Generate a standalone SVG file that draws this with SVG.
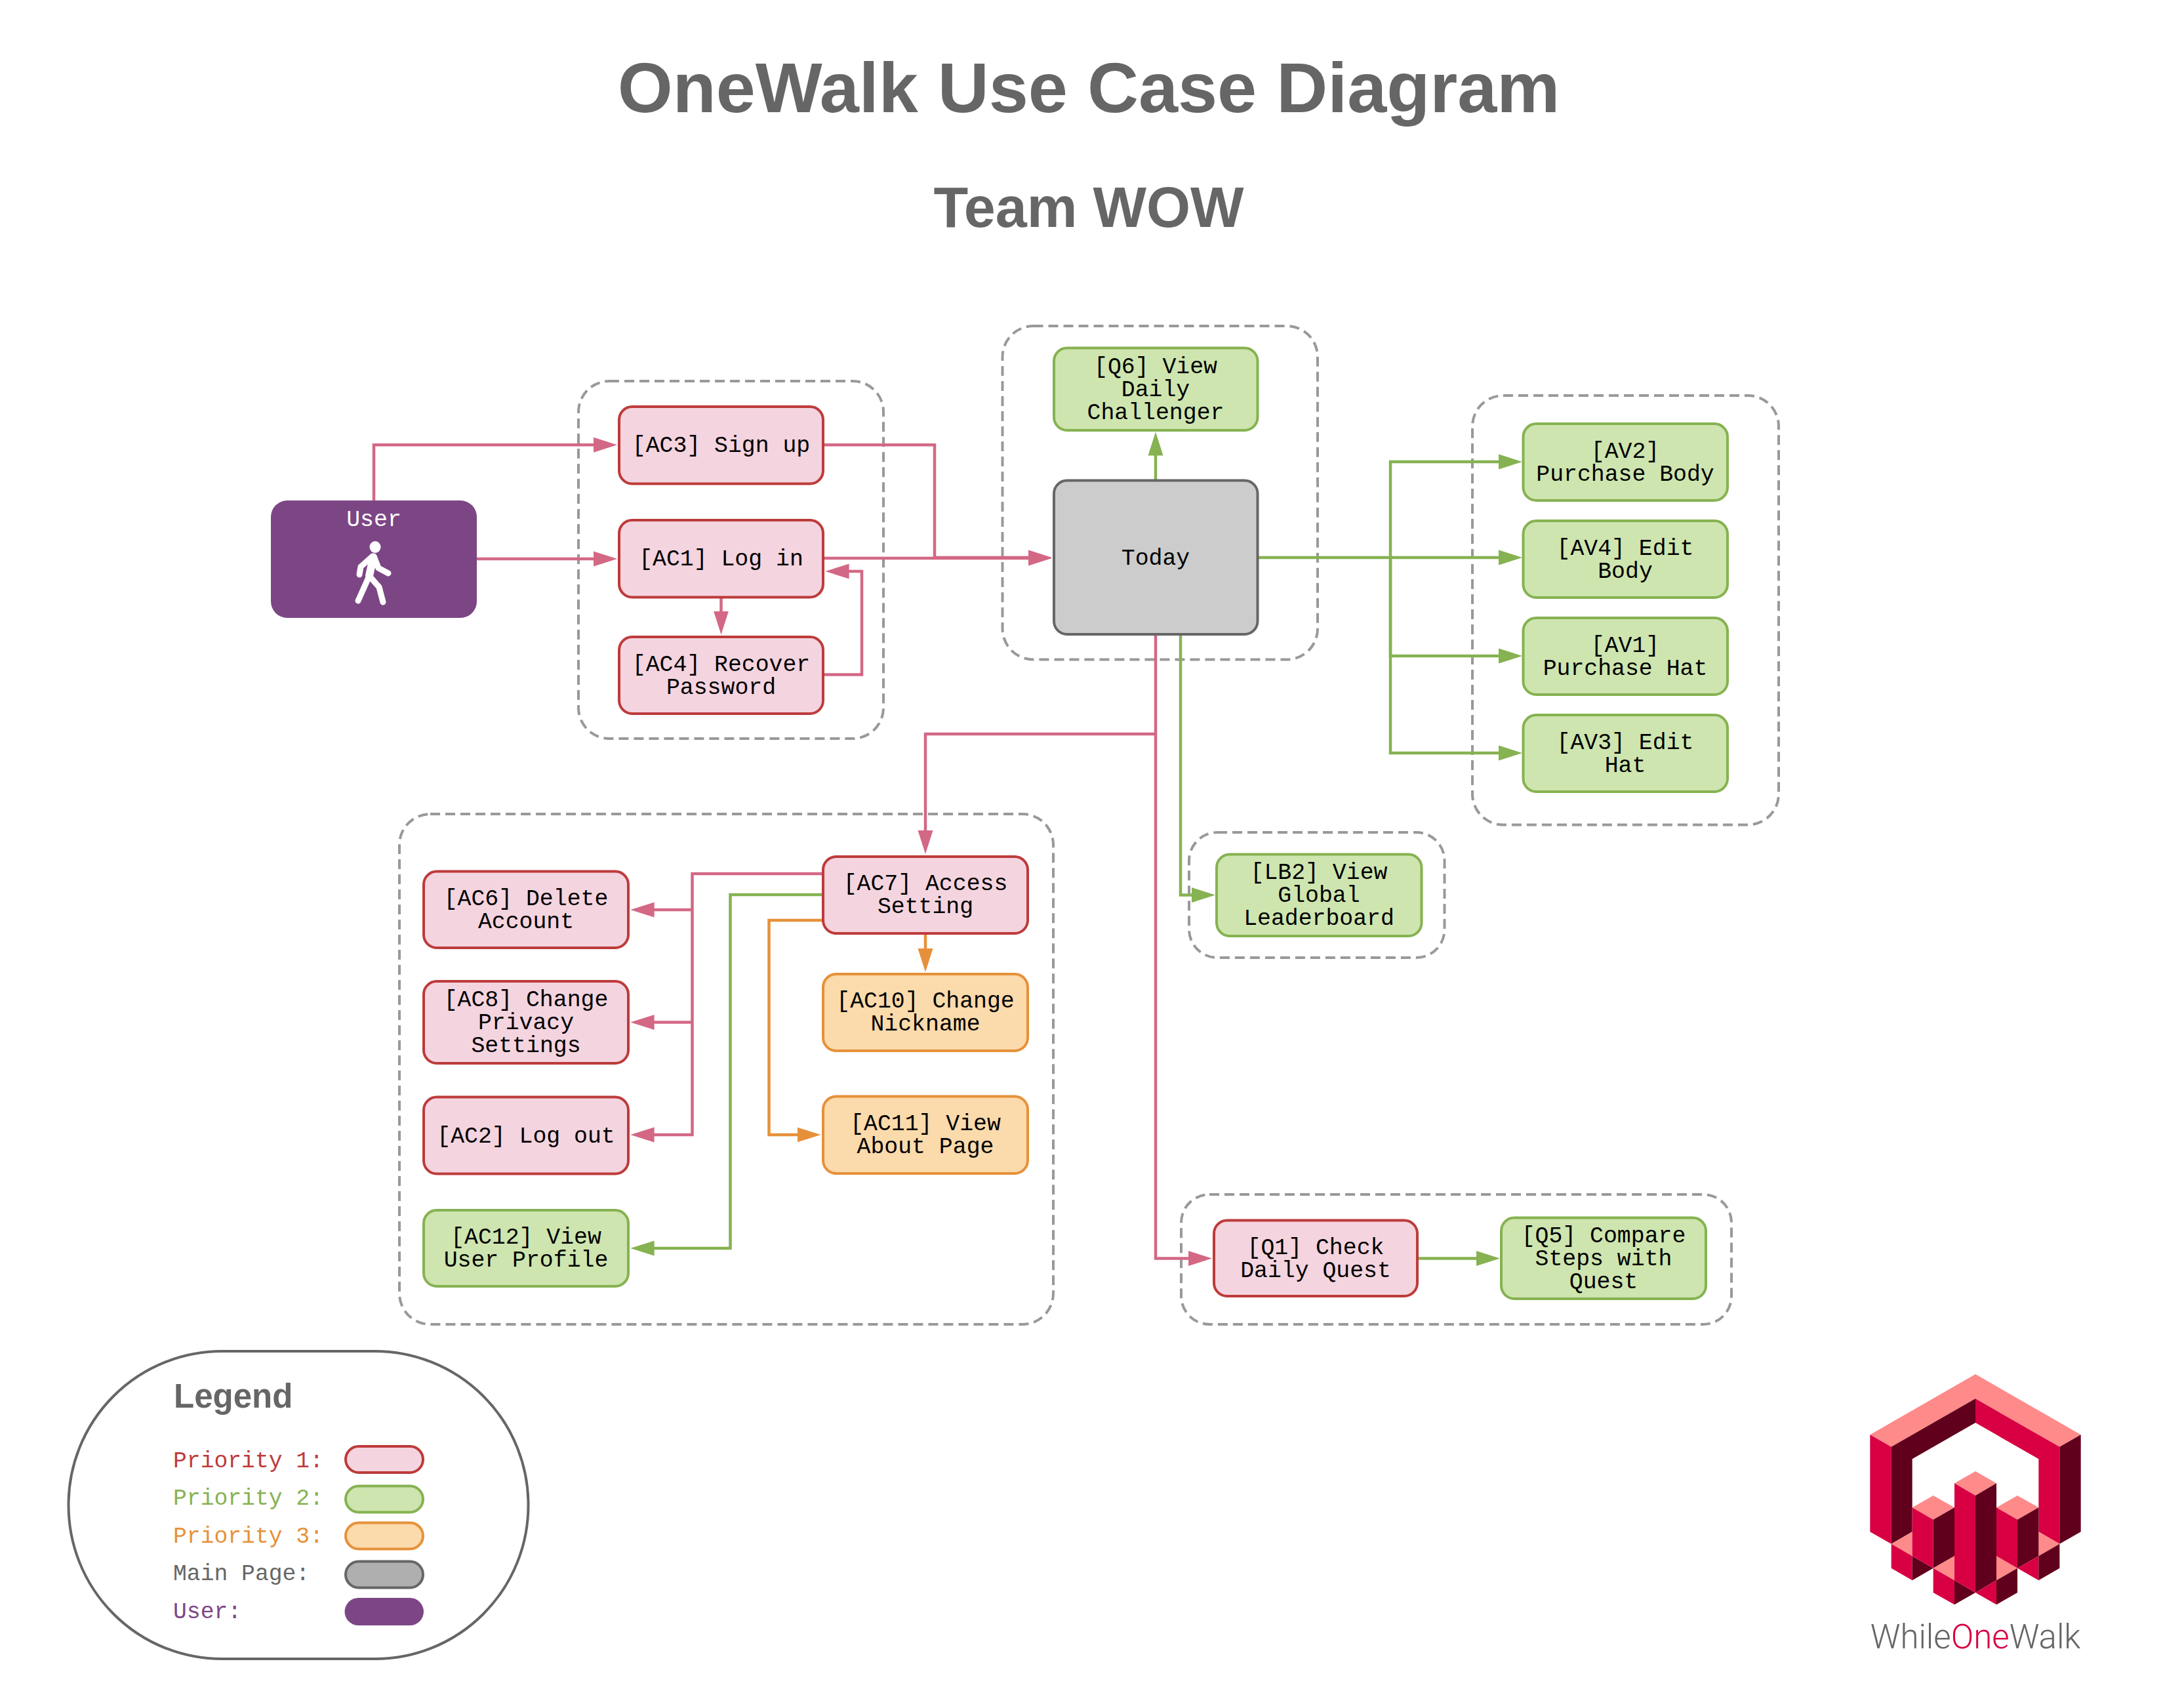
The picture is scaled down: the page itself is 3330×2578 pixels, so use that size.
<svg xmlns="http://www.w3.org/2000/svg" width="3330" height="2578" viewBox="0 0 3330 2578">
  <style>
    text { font-family: "Liberation Mono", monospace; font-size: 34.8px; text-anchor: middle; fill: #000; }
    .title { font-family: "Liberation Sans", Arial, sans-serif; font-weight: 700; fill: #666; }
    .frame { fill: none; stroke: #999; stroke-width: 4; stroke-dasharray: 15 8; }
    .p1 { fill: #f4d4df; stroke: #bd3b3b; stroke-width: 4; }
    .p2 { fill: #cee5af; stroke: #86b251; stroke-width: 4; }
    .p3 { fill: #fbdaab; stroke: #e6913a; stroke-width: 4; }
    .main { fill: #ccc; stroke: #666; stroke-width: 4; }
    .user { fill: #7c4685; }
    .lnk { fill: none; stroke-width: 4.5; }
    .lp { stroke: #d36885; marker-end: url(#ap); }
    .lg { stroke: #86b251; marker-end: url(#ag); }
    .lo { stroke: #e6913a; marker-end: url(#ao); }
    .lbl { text-anchor: start; font-size: 34.7px; }
    .c1 { fill: #d80042; } .c2 { fill: #60001c; } .c3 { fill: #ff8a8a; }
    .walker { fill: none; stroke: #fff; stroke-width: 9; stroke-linecap: round; stroke-linejoin: round; }
  </style>
  <defs>
    <marker id="ap" markerUnits="userSpaceOnUse" markerWidth="36" markerHeight="24" refX="16" refY="12" orient="auto"><path d="M0 0.500L36 12L0 23.500z" fill="#d36885"/></marker>
    <marker id="ag" markerUnits="userSpaceOnUse" markerWidth="36" markerHeight="24" refX="16" refY="12" orient="auto"><path d="M0 0.500L36 12L0 23.500z" fill="#86b251"/></marker>
    <marker id="ao" markerUnits="userSpaceOnUse" markerWidth="36" markerHeight="24" refX="16" refY="12" orient="auto"><path d="M0 0.500L36 12L0 23.500z" fill="#e6913a"/></marker>
  </defs>
  <rect width="3330" height="2578" fill="#fff"/>

  <text class="title" x="1660" y="171" style="font-size:108px">OneWalk Use Case Diagram</text>
  <text class="title" x="1660" y="346" style="font-size:86.300px">Team WOW</text>

  <!-- dashed module frames -->
  <g id="frames">
    <rect class="frame" x="882" y="581" width="465" height="545" rx="47"/>
    <rect class="frame" x="1528.500" y="497" width="480.500" height="508.500" rx="47"/>
    <rect class="frame" x="2245" y="603" width="467" height="654.500" rx="47"/>
    <rect class="frame" x="609" y="1241" width="997" height="778" rx="47"/>
    <rect class="frame" x="1813" y="1269" width="389.500" height="191" rx="43"/>
    <rect class="frame" x="1801" y="1821" width="839" height="198" rx="43"/>
  </g>

  <!-- connectors -->
  <g id="connectors">
    <path class="lnk lp" d="M570 763V678.300H921"/>
    <path class="lnk lp" d="M727 852H921"/>
    <path class="lnk lp" d="M1255 678.300H1425V850H1584"/>
    <path class="lnk lp" d="M1255 851H1584"/>
    <path class="lnk lp" d="M1099.500 911V947.500"/>
    <path class="lnk lp" d="M1255 1028.500H1314V871H1278.600"/>
    <path class="lnk lg" d="M1762 732V678.500"/>
    <path class="lnk lg" d="M1917 850H2120V704H2301"/>
    <path class="lnk lg" d="M2120 850H2301"/>
    <path class="lnk lg" d="M2120 850V1000H2301"/>
    <path class="lnk lg" d="M2120 850V1148H2301"/>
    <path class="lnk lg" d="M1800 967V1364.500H1833"/>
    <path class="lnk lp" d="M1762 967V1119H1411V1282"/>
    <path class="lnk lp" d="M1762 1119V1918.500H1828"/>
    <path class="lnk lg" d="M2161 1918.500H2267"/>
    <path class="lnk lp" d="M1255 1332H1055.500V1730H981.600"/>
    <path class="lnk lp" d="M1055.500 1387H981.600"/>
    <path class="lnk lp" d="M1055.500 1558.500H981.600"/>
    <path class="lnk lg" d="M1255 1364H1113.500V1903H981.600"/>
    <path class="lnk lo" d="M1255 1403H1172.500V1730H1231.600"/>
    <path class="lnk lo" d="M1411 1423V1462"/>
  </g>

  <!-- actor -->
  <g id="user">
    <rect class="user" x="413" y="763" width="314" height="179" rx="25"/>
    <text x="570" y="802" style="fill:#fff">User</text>
    <ellipse cx="572" cy="834" rx="8.500" ry="9" fill="#fff"/>
    <path class="walker" style="stroke-width:12" d="M569 850L563 878"/>
    <path class="walker" d="M563 878L546 916M563 878L578 895L584 918M568 848L550 864L548 876M570 848L577 866L592 874"/>
  </g>

  <!-- use cases -->
  <g id="ac3"><rect class="p1" x="944" y="620" width="311" height="117.500" rx="20"/><text x="1099.500" y="689">[AC3] Sign up</text></g>
  <g id="ac1"><rect class="p1" x="944" y="793" width="311" height="117.500" rx="20"/><text x="1099.500" y="862">[AC1] Log in</text></g>
  <g id="ac4"><rect class="p1" x="944" y="971" width="311" height="117" rx="20"/><text x="1099.500" y="1022.500">[AC4] Recover</text><text x="1099.500" y="1057.500">Password</text></g>
  <g id="today"><rect class="main" x="1607" y="732.500" width="310.500" height="234.500" rx="20"/><text x="1762" y="861">Today</text></g>
  <g id="q6"><rect class="p2" x="1607" y="530.500" width="310.500" height="125.500" rx="20"/><text x="1762" y="569">[Q6] View</text><text x="1762" y="604">Daily</text><text x="1762" y="639">Challenger</text></g>
  <g id="av2"><rect class="p2" x="2322.500" y="646" width="311.500" height="117" rx="20"/><text x="2478" y="697.500">[AV2]</text><text x="2478" y="732.500">Purchase Body</text></g>
  <g id="av4"><rect class="p2" x="2322.500" y="794" width="311.500" height="117" rx="20"/><text x="2478" y="845.500">[AV4] Edit</text><text x="2478" y="880.500">Body</text></g>
  <g id="av1"><rect class="p2" x="2322.500" y="942" width="311.500" height="117" rx="20"/><text x="2478" y="993.500">[AV1]</text><text x="2478" y="1028.500">Purchase Hat</text></g>
  <g id="av3"><rect class="p2" x="2322.500" y="1090" width="311.500" height="117" rx="20"/><text x="2478" y="1141.500">[AV3] Edit</text><text x="2478" y="1176.500">Hat</text></g>
  <g id="ac7"><rect class="p1" x="1255" y="1306" width="312" height="117" rx="20"/><text x="1411" y="1357">[AC7] Access</text><text x="1411" y="1392">Setting</text></g>
  <g id="ac6"><rect class="p1" x="646" y="1328.500" width="312" height="116.500" rx="20"/><text x="802" y="1380">[AC6] Delete</text><text x="802" y="1415">Account</text></g>
  <g id="ac8"><rect class="p1" x="646" y="1496" width="312" height="125" rx="20"/><text x="802" y="1534">[AC8] Change</text><text x="802" y="1569">Privacy</text><text x="802" y="1604">Settings</text></g>
  <g id="ac2"><rect class="p1" x="646" y="1672.500" width="312" height="117" rx="20"/><text x="802" y="1742">[AC2] Log out</text></g>
  <g id="ac12"><rect class="p2" x="646" y="1845" width="312" height="116" rx="20"/><text x="802" y="1896">[AC12] View</text><text x="802" y="1931">User Profile</text></g>
  <g id="ac10"><rect class="p3" x="1255" y="1485" width="312" height="117" rx="20"/><text x="1411" y="1536">[AC10] Change</text><text x="1411" y="1571">Nickname</text></g>
  <g id="ac11"><rect class="p3" x="1255" y="1671.500" width="312" height="117.500" rx="20"/><text x="1411" y="1723">[AC11] View</text><text x="1411" y="1758">About Page</text></g>
  <g id="lb2"><rect class="p2" x="1855" y="1302.500" width="312.500" height="124.500" rx="20"/><text x="2011" y="1340">[LB2] View</text><text x="2011" y="1375">Global</text><text x="2011" y="1410">Leaderboard</text></g>
  <g id="q1"><rect class="p1" x="1851" y="1860.500" width="310" height="115.500" rx="20"/><text x="2006" y="1911.500">[Q1] Check</text><text x="2006" y="1946.500">Daily Quest</text></g>
  <g id="q5"><rect class="p2" x="2289" y="1856.500" width="312" height="123.500" rx="20"/><text x="2445" y="1894">[Q5] Compare</text><text x="2445" y="1929">Steps with</text><text x="2445" y="1964">Quest</text></g>

  <!-- key -->
  <g id="legend">
    <rect x="104.500" y="2060" width="701" height="469" rx="234" fill="#fff" stroke="#666" stroke-width="4"/>
    <text class="title lbl" x="265" y="2146" style="font-size:51px">Legend</text>
    <text class="lbl" x="264" y="2237" style="fill:#bd3b3b">Priority 1:</text>
    <rect class="p1" x="527" y="2205" width="118" height="40" rx="20"/>
    <text class="lbl" x="264" y="2294" style="fill:#86b251">Priority 2:</text>
    <rect class="p2" x="527" y="2265.500" width="118" height="40" rx="20"/>
    <text class="lbl" x="264" y="2352" style="fill:#e6913a">Priority 3:</text>
    <rect class="p3" x="527" y="2321.500" width="118" height="40" rx="20"/>
    <text class="lbl" x="264" y="2409" style="fill:#666">Main Page:</text>
    <rect x="527" y="2380.500" width="118" height="40" rx="20" fill="#afafaf" stroke="#666" stroke-width="4"/>
    <text class="lbl" x="264" y="2467" style="fill:#7c4685">User:</text>
    <rect class="user" x="525.500" y="2436" width="120.500" height="42" rx="21"/>
  </g>

  <!-- brand mark -->
  <g id="logo" transform="translate(2780 2060) scale(.33333)">
    <path class="c3" d="M696 105L1178 382L1081 437L696 217L311 437L214 382Z"/>
    <path class="c1" d="M214 382L311 437V881L214 826Z"/>
    <path class="c2" d="M311 437L696 217V327L407 493V826L311 881Z"/>
    <path class="c1" d="M696 217L1081 437V881L985 826V493L696 327Z"/>
    <path class="c2" d="M1081 437L1178 382V826L1081 881Z"/>
    <path class="c3" d="M311 881L407 826V937Z"/>
    <path class="c3" d="M985 826L1081 881L985 937Z"/>
    <path class="c1" d="M311 881L407 937V1048L311 992Z"/>
    <path class="c2" d="M407 937L503 992L407 1048Z"/>
    <path class="c3" d="M407 715L503 660L600 715L503 770Z"/>
    <path class="c1" d="M407 715L503 770V992L407 937Z"/>
    <path class="c2" d="M503 770L600 715V937L503 992Z"/>
    <path class="c3" d="M503 992L600 937V1048Z"/>
    <path class="c1" d="M503 992L600 1048V1159L503 1104Z"/>
    <path class="c2" d="M600 1048L696 1104L600 1159Z"/>
    <path class="c3" d="M600 604L696 549L792 604L696 660Z"/>
    <path class="c1" d="M600 604L696 660V1104L600 1048Z"/>
    <path class="c2" d="M696 660L792 604V1048L696 1104Z"/>
    <path class="c3" d="M792 937L888 992L792 1048Z"/>
    <path class="c1" d="M696 1104L792 1048V1159Z"/>
    <path class="c2" d="M792 1048L888 992V1104L792 1159Z"/>
    <path class="c3" d="M792 715L888 660L985 715L888 770Z"/>
    <path class="c1" d="M792 715L888 770V992L792 937Z"/>
    <path class="c2" d="M888 770L985 715V937L888 992Z"/>
    <path class="c1" d="M888 992L985 937V1048Z"/>
    <path class="c2" d="M985 937L1081 881V992L985 1048Z"/>
  </g>
  <text id="brand" x="3012" y="2513" style="font-family:Roboto,'Liberation Sans',sans-serif;font-weight:300;font-size:51px;fill:#666">While<tspan style="fill:#d80042">One</tspan>Walk</text>
</svg>
